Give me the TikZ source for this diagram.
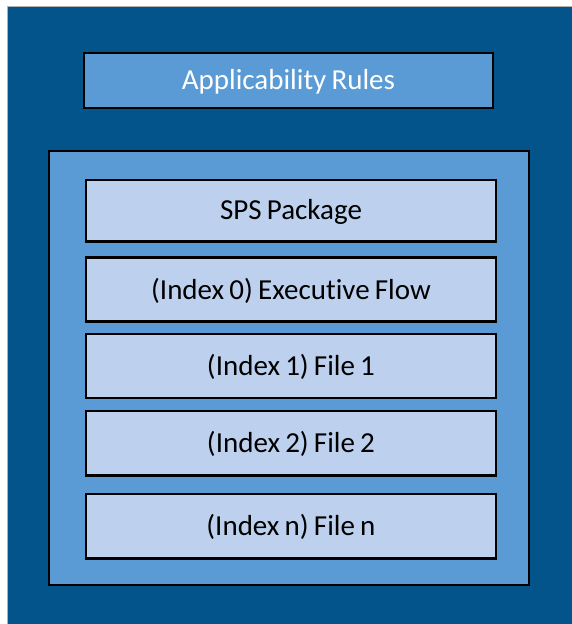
\documentclass[tikz,border=0pt]{standalone}
\usepackage{fontspec}
\setmainfont{Carlito}[Ligatures={NoCommon,NoRare,NoDiscretionary}]
\definecolor{darkbg}{HTML}{03548A}
\definecolor{midblue}{HTML}{5B9BD5}
\definecolor{lightblue}{HTML}{BDD1EE}
\newcommand{\mylblfont}{\fontsize{29}{32}\selectfont\spaceskip=0.18em plus 0.05em\relax}
\begin{document}
\begin{tikzpicture}[x=1pt,y=-1pt,
  boxline/.style={draw=black,line width=2.6pt},
  lbl/.style={font=\mylblfont},
  itembox/.style={boxline,fill=lightblue}]
\useasboundingbox (0,0) rectangle (571,624);
\fill[white] (0,0) rectangle (571,624);
\draw[fill=darkbg,draw=gray!60,line width=0.8pt] (7,6) rectangle (572,625);
\draw[boxline,fill=midblue] (84,53) rectangle (493,108);
\node[lbl,text=white] (rules) at (288.5,81.5) {Applicability Rules};
\draw[boxline,fill=midblue] (49,151) rectangle (529,585);
\draw[itembox] (86,180) rectangle (496,241.5);
\node[lbl] (sps) at (291,211.5) {SPS Package};
\draw[itembox] (86,257.5) rectangle (496,321.5);
\node[lbl] (exec) at (291,290.5) {(Index 0) Executive Flow};
\draw[itembox] (86,334) rectangle (496,398);
\node[lbl] (f1) at (291,367) {(Index 1) File 1};
\draw[itembox] (86,411) rectangle (496,475.5);
\node[lbl] (f2) at (291,444) {(Index 2) File 2};
\draw[itembox] (86,494) rectangle (496,558.5);
\node[lbl] (fn) at (291,527) {(Index n) File n};
\end{tikzpicture}
\end{document}
